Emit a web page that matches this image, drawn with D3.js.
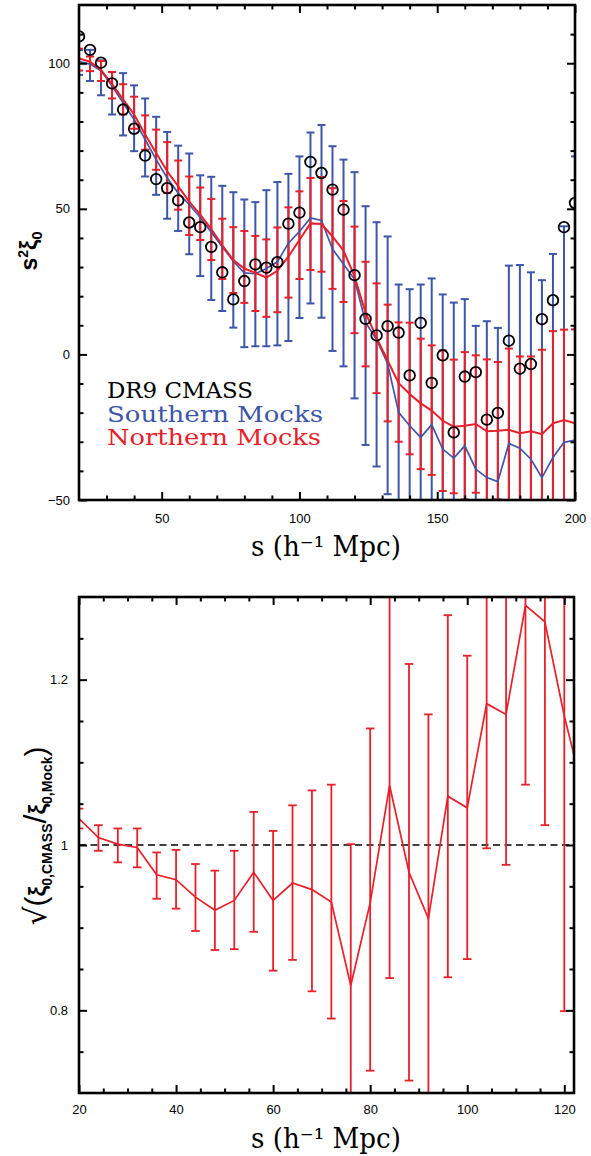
<!DOCTYPE html>
<html>
<head>
<meta charset="utf-8">
<script src="https://cdn.jsdelivr.net/npm/d3@7"></script>
<style>
  body { margin: 0; background: #fff; }
  svg { display: block; }
</style>
</head>
<body>
<svg id="chart" width="591" height="1156"></svg>
<script>
// ---------- Upper panel: s^2 xi_0 monopole ----------
const sTop = [20, 24, 28, 32, 36, 40, 44, 48, 52, 56, 60, 64, 68, 72, 76, 80, 84, 88, 92, 96,
  100, 104, 108, 112, 116, 120, 124, 128, 132, 136, 140, 144, 148, 152, 156, 160, 164, 168, 172, 176,
  180, 184, 188, 192, 196, 200];

// DR9 CMASS measurement
const cmass = [109.2, 104.6, 100.2, 93.1, 84.1, 77.5, 68.3, 60.2, 57.1, 52.9,
  45.3, 43.7, 36.9, 28.2, 18.9, 25.2, 30.9, 29.8, 31.7, 44.9,
  48.7, 66.1, 62.3, 56.6, 49.7, 27.2, 12.2, 6.5, 9.7, 7.5,
  -7.2, 10.8, -9.8, -0.3, -26.8, -7.6, -6.1, -22.4, -20.1, 4.7,
  -4.9, -3.3, 12.1, 18.6, 43.7, 52.0];

// Southern mocks: mean and 1-sigma range
const southMean = [100.6, 99.7, 97.4, 92.2, 86.4, 80.7, 73.8, 66.9, 60.6, 55.4,
  51.5, 47.0, 42.0, 37.0, 32.0, 28.0, 27.7, 29.5, 31.8, 38.2,
  42.2, 46.9, 46.0, 36.2, 31.0, 25.8, 11.0, 5.1, -3.2, -19.9,
  -24.5, -28.5, -24.1, -32.5, -35.6, -31.4, -39.4, -42.3, -43.7, -30.6,
  -32.2, -36.0, -42.3, -35.4, -30.2, -29.4];
const southLo = [96.0, 93.9, 89.0, 82.4, 75.2, 69.8, 61.1, 54.8, 46.6, 42.4,
  34.4, 26.9, 18.7, 14.9, 9.2, 2.5, 2.8, 2.8, 3.1, 4.6,
  12.5, 17.5, 12.6, 1.2, -4.1, -15.1, -31.1, -38.5, -48.0, -65,
  -70, -75, -72, -80, -85, -80, -85, -90, -95, -90,
  -90, -95, -100, -100, -95, -95];
const southHi = [104.5, 104.6, 101.0, 97.0, 96.6, 92.4, 87.9, 81.6, 76.4, 71.7,
  69.0, 61.5, 61.0, 57.9, 55.7, 53.2, 52.3, 56.4, 59.2, 62.0,
  68.0, 76.2, 78.8, 71.5, 66.9, 62.6, 50.9, 45.4, 40.5, 24.0,
  22.4, 24.0, 26.1, 20.6, 17.8, 19.0, 9.8, 11.4, 9.1, 30.5,
  30.7, 28.2, 25.5, 34.5, 44.0, 68.0];

// Northern mocks: mean and 1-sigma range
const northMean = [101.6, 100.5, 97.7, 92.8, 87.6, 82.4, 75.5, 69.2, 62.9, 57.7,
  52.5, 48.0, 43.0, 37.5, 32.4, 29.5, 28.0, 26.4, 28.7, 33.6,
  39.3, 45.0, 44.8, 40.5, 35.6, 26.8, 14.3, 5.7, -2.1, -9.9,
  -13.6, -16.8, -19.3, -22.8, -24.8, -24.5, -23.9, -26.4, -26.2, -25.9,
  -27.1, -26.4, -27.4, -23.7, -22.5, -23.7];
const northLo = [97.5, 97.3, 93.9, 87.9, 82.4, 77.5, 70.3, 63.4, 55.4, 49.7,
  41.0, 39.3, 32.4, 25.9, 21.1, 17.7, 14.9, 12.9, 14.5, 19.5,
  25.9, 29.0, 28.4, 22.5, 18.0, 7.3, -4.1, -13.3, -23.0, -30.0,
  -34.3, -39.4, -41.4, -46.9, -47.7, -49.8, -47.5, -51.0, -49.8, -54,
  -54, -53, -56, -55, -54, -55];
const northHi = [105.0, 102.3, 100.8, 97.0, 92.8, 88.5, 82.1, 77.2, 72.9, 66.6,
  61.1, 57.3, 53.4, 46.6, 43.7, 42.4, 40.7, 39.5, 43.6, 50.5,
  56.0, 60.6, 60.9, 57.1, 52.7, 43.9, 31.8, 24.4, 17.1, 11.0,
  10.9, 5.4, 3.1, 1.4, -1.8, 0.8, -0.3, -1.7, -2.6, 2.0,
  -0.7, -0.7, 1.6, 8.0, 8.5, 8.6];

const topXMajor = [50, 100, 150, 200];
const topXMinor = [30, 40, 60, 70, 80, 90, 110, 120, 130, 140, 160, 170, 180, 190];
const topYMajor = [-50, 0, 50, 100];
const topYMinor = [-40, -30, -20, -10, 10, 20, 30, 40, 60, 70, 80, 90, 110];

const legendLabels = ["DR9 CMASS", "Southern Mocks", "Northern Mocks"];

// ---------- Lower panel: sqrt(xi_CMASS / xi_Mock) ----------
const sBot = [20, 24, 28, 32, 36, 40, 44, 48, 52, 56, 60, 64, 68, 72, 76, 80, 84, 88, 92, 96,
  100, 104, 108, 112, 116, 120, 124];
const ratio = [1.032, 1.009, 1.001, 0.997, 0.964, 0.958, 0.937, 0.921, 0.933, 0.967,
  0.933, 0.954, 0.946, 0.931, 0.830, 0.930, 1.072, 0.967, 0.911, 1.059,
  1.045, 1.171, 1.158, 1.290, 1.270, 1.156, 1.062];
const ratioLo = [1.020, 0.993, 0.979, 0.973, 0.935, 0.923, 0.896, 0.873, 0.874, 0.895,
  0.848, 0.861, 0.823, 0.790, 0.659, 0.727, 0.839, 0.715, 0.664, 0.840,
  0.862, 0.996, 0.976, 1.073, 1.024, 0.799, 0.760];
const ratioHi = [1.044, 1.024, 1.020, 1.020, 0.991, 0.994, 0.977, 0.969, 0.993, 1.040,
  1.017, 1.048, 1.066, 1.073, 1.001, 1.141, 1.305, 1.219, 1.158, 1.278,
  1.229, 1.346, 1.340, 1.507, 1.516, 1.513, 1.360];

const botXMajor = [20, 40, 60, 80, 100, 120];
const botXMinor = [25, 30, 35, 45, 50, 55, 65, 70, 75, 85, 90, 95, 105, 110, 115];
const botYMajor = [0.8, 1.0, 1.2];
const botYMinor = [0.75, 0.85, 0.9, 0.95, 1.05, 1.1, 1.15, 1.25];

const xTitle = "s (h\u207B\u00B9 Mpc)";

// ---------- drawing ----------
const BLUE = "#3d56a9";
const RED = "#e8202a";
const TICK_FONT = "'Liberation Sans', Arial, sans-serif";
const SERIF = "'DejaVu Serif', serif";

const svg = d3.select("#chart");
const defs = svg.append("defs");

function clipFor(id, x, y) {
  const [x0, x1] = x.range();
  const [y0, y1] = y.range();
  defs.append("clipPath").attr("id", id)
    .append("rect").attr("x", x0).attr("y", y1).attr("width", x1 - x0).attr("height", y0 - y1);
  return `url(#${id})`;
}

function frame(x, y, o) {
  const [x0, x1] = x.range();
  const [y0, y1] = y.range();
  const g = svg.append("g");
  const sides = [
    { axis: d3.axisBottom(x), t: `translate(0,${y0})`, major: o.xMajor, minor: o.xMinor, fmt: o.xFmt, pad: o.xPad },
    { axis: d3.axisTop(x), t: `translate(0,${y1})`, major: o.xMajor, minor: o.xMinor, fmt: null },
    { axis: d3.axisLeft(y), t: `translate(${x0},0)`, major: o.yMajor, minor: o.yMinor, fmt: o.yFmt, pad: o.yPad },
    { axis: d3.axisRight(y), t: `translate(${x1},0)`, major: o.yMajor, minor: o.yMinor, fmt: null }
  ];
  sides.forEach(sd => {
    const make = () => sd.axis.scale().copy ? sd.axis : sd.axis;
    const maj = g.append("g").attr("transform", sd.t)
      .call(sd.axis.tickValues(sd.major).tickSize(-8).tickPadding(sd.pad || 3)
        .tickFormat(sd.fmt ? sd.fmt : () => ""));
    maj.select(".domain").remove();
    maj.selectAll(".tick line").attr("stroke", "#000").attr("stroke-width", 2);
    maj.selectAll(".tick text").attr("fill", "#000")
      .style("font-family", TICK_FONT).style("font-size", "13px");
  });
  // minor ticks
  const minors = [
    [d3.axisBottom(x), `translate(0,${y0})`, o.xMinor],
    [d3.axisTop(x), `translate(0,${y1})`, o.xMinor],
    [d3.axisLeft(y), `translate(${x0},0)`, o.yMinor],
    [d3.axisRight(y), `translate(${x1},0)`, o.yMinor]
  ];
  minors.forEach(([ax, t, vals]) => {
    const m = g.append("g").attr("transform", t)
      .call(ax.tickValues(vals).tickSize(-4.5).tickFormat(() => ""));
    m.select(".domain").remove();
    m.selectAll(".tick line").attr("stroke", "#000").attr("stroke-width", 2);
  });
  g.append("rect")
    .attr("x", x0).attr("y", y1).attr("width", x1 - x0).attr("height", y0 - y1)
    .attr("fill", "none").attr("stroke", "#000").attr("stroke-width", 2.6);
}

function errorBars(g, xs, lo, hi, x, y, color, capHalf, width) {
  const rows = xs.map((s, i) => ({ s, lo: lo[i], hi: hi[i] }));
  const eg = g.append("g").attr("stroke", color).attr("stroke-width", width).attr("fill", "none");
  eg.selectAll("line.stem").data(rows).join("line").attr("class", "stem")
    .attr("x1", d => x(d.s)).attr("x2", d => x(d.s))
    .attr("y1", d => y(d.lo)).attr("y2", d => y(d.hi));
  const caps = rows.flatMap(d => [{ s: d.s, v: d.lo }, { s: d.s, v: d.hi }]);
  eg.selectAll("line.cap").data(caps).join("line").attr("class", "cap")
    .attr("x1", d => x(d.s) - capHalf).attr("x2", d => x(d.s) + capHalf)
    .attr("y1", d => y(d.v)).attr("y2", d => y(d.v));
}

function seriesLine(g, xs, vals, x, y, color, width) {
  const line = d3.line().x(d => x(d[0])).y(d => y(d[1]));
  g.append("path").datum(xs.map((s, i) => [s, vals[i]]))
    .attr("d", line).attr("fill", "none").attr("stroke", color)
    .attr("stroke-width", width).attr("stroke-linejoin", "miter");
}

// ---- upper panel ----
const xT = d3.scaleLinear().domain([20, 200]).range([79, 575]);
const yT = d3.scaleLinear().domain([-50, 120]).range([500, 5]);
const gT = svg.append("g").attr("clip-path", clipFor("clipTop", xT, yT));

errorBars(gT, sTop, southLo, southHi, xT, yT, BLUE, 4, 2);
errorBars(gT, sTop, northLo, northHi, xT, yT, RED, 4, 2);
seriesLine(gT, sTop, southMean, xT, yT, BLUE, 1.7);
seriesLine(gT, sTop, northMean, xT, yT, RED, 2);
gT.append("g").selectAll("circle").data(sTop.map((s, i) => [s, cmass[i]])).join("circle")
  .attr("cx", d => xT(d[0])).attr("cy", d => yT(d[1])).attr("r", 5.3)
  .attr("fill", "none").attr("stroke", "#000").attr("stroke-width", 1.8);

frame(xT, yT, {
  xMajor: topXMajor, xMinor: topXMinor, yMajor: topYMajor, yMinor: topYMinor,
  xFmt: d3.format("d"), yFmt: d3.format("d"), xPad: 14, yPad: 9
});

// legend
const legendColors = ["#000", BLUE, RED];
const legendWidths = [146, 216, 214];
svg.append("g").selectAll("text").data(legendLabels).join("text")
  .attr("x", 107).attr("y", (d, i) => 398 + i * 23.5)
  .attr("fill", (d, i) => legendColors[i])
  .attr("textLength", (d, i) => legendWidths[i]).attr("lengthAdjust", "spacingAndGlyphs")
  .style("font-family", SERIF).style("font-size", "23px")
  .text(d => d);

// axis titles
svg.append("text").attr("x", 326).attr("y", 556).attr("text-anchor", "middle")
  .attr("textLength", 150).attr("lengthAdjust", "spacingAndGlyphs")
  .style("font-family", SERIF).style("font-size", "27px").text(xTitle);

const yTitleTop = svg.append("text")
  .attr("transform", "translate(37,251) rotate(-90)")
  .attr("text-anchor", "middle")
  .style("font-family", TICK_FONT).style("font-weight", "bold").style("font-size", "23px");
yTitleTop.append("tspan").text("s");
yTitleTop.append("tspan").attr("dy", -9).style("font-size", "14px").text("2");
yTitleTop.append("tspan").attr("dy", 9).text("\u03BE");
yTitleTop.append("tspan").attr("dy", 5).style("font-size", "15px").text("0");

// ---- lower panel ----
const xB = d3.scaleLinear().domain([20, 122]).range([79, 574]);
const yB = d3.scaleLinear().domain([0.7, 1.3]).range([1093, 597]);
const gB = svg.append("g").attr("clip-path", clipFor("clipBot", xB, yB));

gB.append("line").attr("x1", xB(20)).attr("x2", xB(122)).attr("y1", yB(1)).attr("y2", yB(1))
  .attr("stroke", "#000").attr("stroke-width", 1.6).attr("stroke-dasharray", "7,4.5");
errorBars(gB, sBot, ratioLo, ratioHi, xB, yB, RED, 4.3, 1.8);
seriesLine(gB, sBot, ratio, xB, yB, RED, 1.7);

frame(xB, yB, {
  xMajor: botXMajor, xMinor: botXMinor, yMajor: botYMajor, yMinor: botYMinor,
  xFmt: d3.format("d"), yFmt: d => (d === 1 ? "1" : d3.format(".1f")(d)), xPad: 12, yPad: 11
});

svg.append("text").attr("x", 326).attr("y", 1148).attr("text-anchor", "middle")
  .attr("textLength", 150).attr("lengthAdjust", "spacingAndGlyphs")
  .style("font-family", SERIF).style("font-size", "27px").text(xTitle);

const yTitleBot = svg.append("text")
  .attr("transform", "translate(46,836) rotate(-90)")
  .attr("text-anchor", "middle")
  .style("font-family", TICK_FONT).style("font-size", "24px");
yTitleBot.append("tspan").style("font-family", "'DejaVu Sans', sans-serif").style("font-size", "30px").text("\u221A");
yTitleBot.append("tspan").style("font-size", "30px").text("(");
yTitleBot.append("tspan").style("font-weight", "bold").text("\u03BE");
yTitleBot.append("tspan").attr("dy", 6).style("font-weight", "bold").style("font-size", "14px").text("0,CMASS");
yTitleBot.append("tspan").attr("dy", -6).style("font-size", "32px").text("/");
yTitleBot.append("tspan").style("font-weight", "bold").text("\u03BE");
yTitleBot.append("tspan").attr("dy", 6).style("font-weight", "bold").style("font-size", "14px").text("0,Mock");
yTitleBot.append("tspan").attr("dy", -6).style("font-size", "30px").text(")");
</script>
</body>
</html>
